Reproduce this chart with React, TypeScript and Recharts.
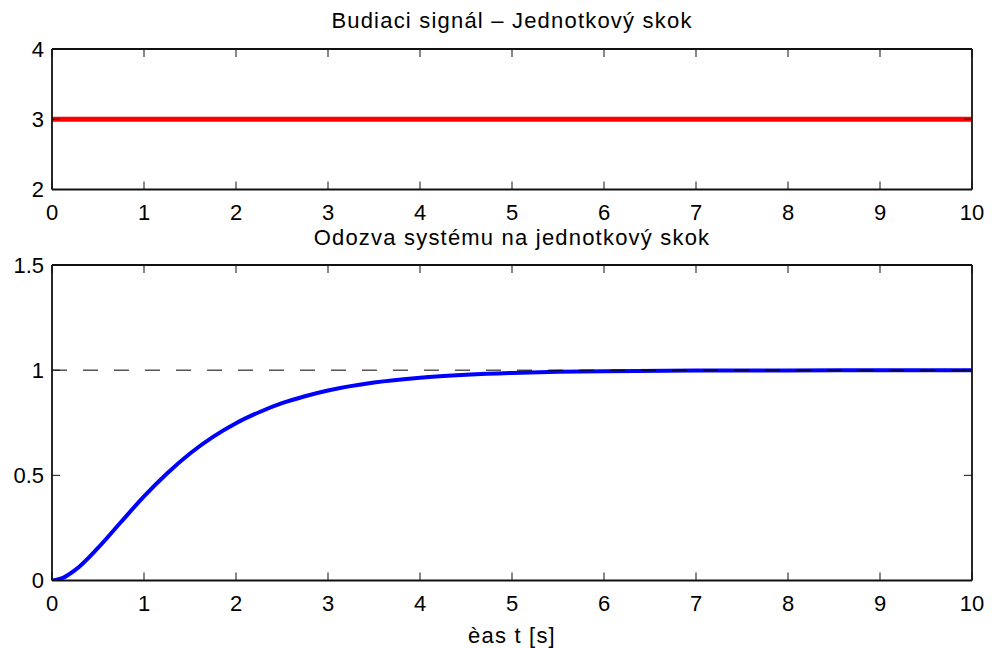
import React from 'react';
import { LineChart, Line, XAxis, YAxis } from 'recharts';

// budiaci signal (jednotkovy skok posunuty na 3)
const inputTime = [0, 10];
const inputValue = [3, 3];

// odozva systemu - odcitane z grafu
const responseTime = [
  0, 0.125, 0.25, 0.5, 0.75, 1, 1.25, 1.5, 1.75, 2, 2.25, 2.5, 2.75, 3,
  3.5, 4, 4.5, 5, 5.5, 6, 7, 8, 9, 10,
];
const responseValue = [
  0, 0.014, 0.049, 0.155, 0.278, 0.4, 0.509, 0.604, 0.683, 0.748, 0.8, 0.843, 0.876, 0.903,
  0.941, 0.964, 0.978, 0.987, 0.992, 0.995, 0.998, 0.999, 1.0, 1.0,
];

// ustalena hodnota (ciarkovana)
const steadyTime = [0, 10];
const steadyValue = [1, 1];

const xTicks = [0, 1, 2, 3, 4, 5, 6, 7, 8, 9, 10];
const inputTicks = [2, 3, 4];
const responseTicks = [0, 0.5, 1, 1.5];

const topTitle = 'Budiaci signál – Jednotkový skok';
const bottomTitle = 'Odozva systému na jednotkový skok';
const xLabel = 'èas t [s]';

const FONT = '"Liberation Sans", Arial, Helvetica, sans-serif';
const FONT_SIZE = 22;
const TICK_LEN = 8;
const X_MARGIN = 15;
const Y_MARGIN = 8;
const AXIS_COLOR = '#111';
const axisLineStyle = { stroke: AXIS_COLOR, strokeWidth: 1.8 };

const TOP_CHART_H = 230;
const BOTTOM_CHART_H = 418;
const X_AXIS_H = 30;
const topMargin = { top: 48, right: 19, bottom: 10.5, left: 0 };
const bottomMargin = { top: 34, right: 19, bottom: 37.5, left: 0 };

const inputRows = inputTime.map((t, i) => ({ t, y: inputValue[i] }));
const responseRows = responseTime.map((t, i) => ({ t, y: responseValue[i] }));
const steadyRows = steadyTime.map((t, i) => ({ t, y: steadyValue[i] }));

// dolne popisky + zarezy dole aj hore (horna os ich sama nekresli)
const makeBottomTick = (plotHeight: number) => (props: any) => {
  const { x, y, payload } = props;
  const axisY = y - X_MARGIN;
  const topY = axisY - plotHeight;
  return (
    <g>
      <line x1={x} x2={x} y1={axisY} y2={axisY - TICK_LEN} stroke={AXIS_COLOR} strokeWidth={1} />
      <line x1={x} x2={x} y1={topY} y2={topY + TICK_LEN} stroke={AXIS_COLOR} strokeWidth={1} />
      <text x={x} y={y} dy="0.71em" textAnchor="middle" fontSize={FONT_SIZE} fontFamily={FONT} fill="#000">
        {payload.value}
      </text>
    </g>
  );
};

const LeftTick = (props: any) => {
  const { x, y, payload } = props;
  const axisX = x + Y_MARGIN;
  return (
    <g>
      <line x1={axisX} x2={axisX + TICK_LEN} y1={y} y2={y} stroke={AXIS_COLOR} strokeWidth={1} />
      <text x={x} y={y} dy="0.355em" textAnchor="end" fontSize={FONT_SIZE} fontFamily={FONT} fill="#000">
        {payload.value}
      </text>
    </g>
  );
};

const RightTick = (props: any) => {
  const { x, y } = props;
  return <line x1={x} x2={x - TICK_LEN} y1={y} y2={y} stroke={AXIS_COLOR} strokeWidth={1} />;
};

// spolocne osi pre oba grafy (ramcek so zarezmi dovnutra)
function renderAxes(yDomain: [number, number], yTicks: number[], plotHeight: number) {
  const BottomTick = makeBottomTick(plotHeight);
  return [
    <XAxis
      key="xb"
      xAxisId="b"
      dataKey="t"
      type="number"
      domain={[0, 10]}
      allowDataOverflow
      ticks={xTicks}
      interval={0}
      height={X_AXIS_H}
      tickSize={0}
      tickMargin={X_MARGIN}
      tickLine={false}
      axisLine={axisLineStyle}
      tick={<BottomTick />}
    />,
    <XAxis
      key="xt"
      xAxisId="t"
      orientation="top"
      type="number"
      domain={[0, 10]}
      allowDataOverflow
      ticks={xTicks}
      height={1}
      tickLine={false}
      axisLine={axisLineStyle}
      tick={false}
    />,
    <YAxis
      key="yl"
      yAxisId="l"
      type="number"
      domain={yDomain}
      allowDataOverflow
      ticks={yTicks}
      interval={0}
      width={52}
      tickSize={0}
      tickMargin={Y_MARGIN}
      tickLine={false}
      axisLine={axisLineStyle}
      tick={<LeftTick />}
    />,
    <YAxis
      key="yr"
      yAxisId="r"
      orientation="right"
      type="number"
      domain={yDomain}
      allowDataOverflow
      ticks={yTicks}
      interval={0}
      width={1}
      tickSize={0}
      tickMargin={0}
      tickLine={false}
      axisLine={axisLineStyle}
      tick={<RightTick />}
    />,
  ];
}

export default function App() {
  const titleStyle = { fontFamily: FONT, fontSize: FONT_SIZE, letterSpacing: 1.2 };
  const topPlotH = TOP_CHART_H - topMargin.top - 1 - topMargin.bottom - X_AXIS_H;
  const bottomPlotH = BOTTOM_CHART_H - bottomMargin.top - 1 - bottomMargin.bottom - X_AXIS_H;
  return (
    <div style={{ position: 'absolute', left: 0, top: 0, width: 992, height: 648, background: '#fff' }}>
      {/* horny graf */}
      <div style={{ position: 'absolute', left: 0, top: 0 }}>
        <LineChart width={992} height={TOP_CHART_H} margin={topMargin}>
          {renderAxes([2, 4], inputTicks, topPlotH)}
          <Line
            xAxisId="b"
            yAxisId="l"
            data={inputRows}
            dataKey="y"
            type="linear"
            stroke="#ff0000"
            strokeWidth={5}
            dot={false}
            isAnimationActive={false}
          />
        </LineChart>
      </div>

      {/* dolny graf */}
      <div style={{ position: 'absolute', left: 0, top: 230 }}>
        <LineChart width={992} height={BOTTOM_CHART_H} margin={bottomMargin}>
          {renderAxes([0, 1.5], responseTicks, bottomPlotH)}
          <Line
            xAxisId="b"
            yAxisId="l"
            data={responseRows}
            dataKey="y"
            type="monotone"
            stroke="#0000ff"
            strokeWidth={4}
            dot={false}
            isAnimationActive={false}
          />
          <Line
            xAxisId="b"
            yAxisId="l"
            data={steadyRows}
            dataKey="y"
            type="linear"
            stroke="#000"
            strokeWidth={1}
            strokeDasharray="15 16"
            dot={false}
            isAnimationActive={false}
          />
        </LineChart>
      </div>

      <svg
        width={992}
        height={648}
        style={{ position: 'absolute', left: 0, top: 0, pointerEvents: 'none' }}
      >
        <text x={512} y={28} textAnchor="middle" fill="#000" style={titleStyle}>
          {topTitle}
        </text>
        <text x={512} y={244.5} textAnchor="middle" fill="#000" style={titleStyle}>
          {bottomTitle}
        </text>
        <text x={512} y={643} textAnchor="middle" fill="#000" style={titleStyle}>
          {xLabel}
        </text>
      </svg>
    </div>
  );
}
